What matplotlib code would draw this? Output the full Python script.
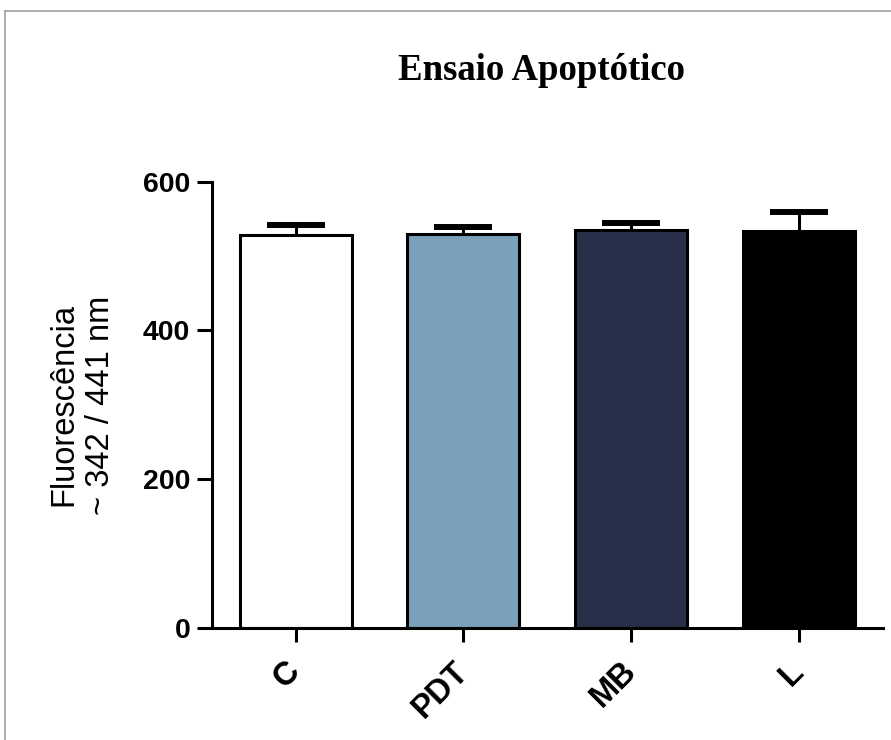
import numpy as np
import matplotlib.pyplot as plt
from matplotlib.lines import Line2D
from matplotlib.transforms import ScaledTranslation

groups = ['C', 'PDT', 'MB', 'L']
means = [528, 529, 535, 533]
sems = [14, 10, 9, 26]
colors = ['#ffffff', '#7aa0ba', '#282f48', '#000000']

fig = plt.figure(figsize=(8.91, 7.40), dpi=100)
ax = fig.add_axes([0.2376, 0.1518, 0.9910 - 0.2376, 0.7545 - 0.1518])

x = np.arange(len(groups))
ax.bar(x, means, width=0.667, color=colors, edgecolor='black', linewidth=2.2, zorder=2)
eb = ax.errorbar(x, means, yerr=[[0] * len(sems), sems], fmt='none', ecolor='black',
                 elinewidth=2.2, capsize=21, capthick=4.3, zorder=3)
# only the upper half of the error bar is shown
eb[1][0].set_visible(False)
eb[1][1].set_solid_capstyle('round')

ax.set_xlim(-0.5, 3.5)
ax.set_ylim(0, 600)
ax.set_yticks([0, 200, 400, 600])
ax.set_xticks(x)
ax.set_xticklabels(groups, rotation=45, ha='right', va='center', rotation_mode='anchor')
offset = ScaledTranslation(4 / 100, 0, fig.dpi_scale_trans)
for lab in ax.get_xticklabels():
    lab.set_transform(lab.get_transform() + offset)

for s in ['top', 'right']:
    ax.spines[s].set_visible(False)
for s in ['left', 'bottom']:
    ax.spines[s].set_linewidth(2.2)
ax.tick_params(axis='both', width=2.2, direction='out')
ax.tick_params(axis='x', length=10, pad=18, labelsize=23.5)
ax.tick_params(axis='y', length=10.5, pad=5, labelsize=20.5)
for lab in ax.get_xticklabels() + ax.get_yticklabels():
    lab.set_fontweight('bold')
    lab.set_family('Liberation Sans')

fig.text(82 / 891, 1 - 405 / 740, 'Fluorescência\n~ 342 / 441 nm', rotation=90,
         ha='center', va='center', multialignment='center', fontsize=23.5,
         family='Liberation Sans', linespacing=1.25)

fig.text(541 / 891, 1 - 80 / 740, 'Ensaio Apoptótico', ha='center', va='baseline',
         fontsize=26.5, fontweight='bold', family='Liberation Serif')

# grey frame around the picture
fig.add_artist(Line2D([5 / 891, 5 / 891], [0, 1 - 11 / 740], transform=fig.transFigure,
                      color='#a0a0a0', linewidth=1.2))
fig.add_artist(Line2D([5 / 891, 1], [1 - 11 / 740, 1 - 11 / 740], transform=fig.transFigure,
                      color='#a0a0a0', linewidth=1.2))

fig.savefig('out.png', dpi=100)
